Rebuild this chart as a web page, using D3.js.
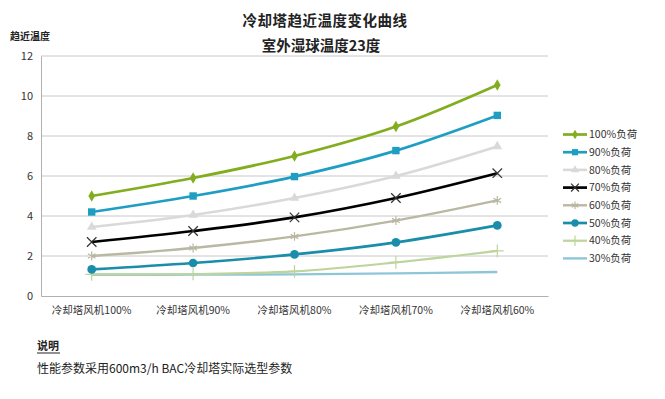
<!DOCTYPE html>
<html><head><meta charset="utf-8">
<script src="https://cdn.jsdelivr.net/npm/d3@7/dist/d3.min.js"></script>
<style>
body{margin:0;background:#fff;}
svg{display:block;}
text{font-family:"Noto Sans CJK SC","Noto Sans",sans-serif;}
</style></head>
<body><div id="chart"></div>
<script>
const categories = ["冷却塔风机100%","冷却塔风机90%","冷却塔风机80%","冷却塔风机70%","冷却塔风机60%"];
const seriesNames = ["100%负荷","90%负荷","80%负荷","70%负荷","60%负荷","50%负荷","40%负荷","30%负荷"];
const load100 = [5.0, 5.9, 7.0, 8.47, 10.55];
const load90  = [4.2, 5.0, 5.97, 7.27, 9.03];
const load80  = [3.45, 4.05, 4.9, 6.0, 7.48];
const load70  = [2.7, 3.25, 3.93, 4.9, 6.14];
const load60  = [2.0, 2.4, 2.98, 3.77, 4.78];
const load50  = [1.33, 1.65, 2.08, 2.68, 3.53];
const load40  = [1.08, 1.1, 1.23, 1.68, 2.26];
const load30  = [1.06, 1.07, 1.08, 1.13, 1.2];
const yTicks = [0,2,4,6,8,10,12];
const title = "冷却塔趋近温度变化曲线";
const subtitle = "室外湿球温度23度";
const yTitle = "趋近温度";
const noteTitle = "说明";
const noteText = "性能参数采用600m3/h BAC冷却塔实际选型参数";

const seriesValues = [load100,load90,load80,load70,load60,load50,load40,load30];
const colors = ["#82ad1e","#1e9ec2","#d9d9d9","#000000","#b9b8a2","#1a8dab","#bdd49c","#8ec6d8"];
const widths = [2.7,2.7,2.6,2.7,2.4,2.7,2.2,2.4];
const sym = d3.symbolAsterisk ? [d3.symbolDiamond,d3.symbolSquare,d3.symbolTriangle,d3.symbolX,d3.symbolAsterisk,d3.symbolCircle,d3.symbolPlus,null]
  : [d3.symbolDiamond,d3.symbolSquare,d3.symbolTriangle,d3.symbolCross,d3.symbolStar,d3.symbolCircle,d3.symbolCross,null];
const symFilled = [true,true,true,false,false,true,false,false];
const symSize = [38,55,40,60,55,60,55,0];

const W=665,H=399;
const svg = d3.select("#chart").append("svg").attr("width",W).attr("height",H);

const x = d3.scaleBand().domain(categories).range([41,548]);
const y = d3.scaleLinear().domain([0,12]).range([296,56]);

// gridlines
svg.append("g").selectAll("line").data(yTicks.filter(d=>d>0)).join("line")
  .attr("x1",41).attr("x2",548).attr("y1",d=>y(d)).attr("y2",d=>y(d))
  .attr("stroke","#c8c8c8").attr("stroke-width",1);

// y axis
const ya = svg.append("g").attr("transform","translate(41,0)")
  .call(d3.axisLeft(y).tickValues(yTicks).tickSize(0).tickPadding(8));
ya.select(".domain").attr("stroke","#b0b0b0");
ya.selectAll("text").attr("font-size",11).attr("fill","#333").attr("font-family","'Open Sans','Noto Sans',sans-serif");

// x axis
const xa = svg.append("g").attr("transform","translate(0,296)")
  .call(d3.axisBottom(x).tickSize(0).tickPadding(11));
xa.select(".domain").attr("stroke","#b0b0b0");
xa.selectAll("text").attr("font-size",10.5).attr("fill","#333");

const line = d3.line().x((d,i)=>x(categories[i])+x.bandwidth()/2).y(d=>y(d)).curve(d3.curveCatmullRom.alpha(0.5));

// draw lines from bottom series up
for(let s=seriesValues.length-1;s>=0;s--){
  const g = svg.append("g");
  g.append("path").datum(seriesValues[s]).attr("d",line)
    .attr("fill","none").attr("stroke",colors[s]).attr("stroke-width",widths[s]).attr("stroke-linejoin","round");
  if(sym[s]){
    g.selectAll("path.m").data(seriesValues[s]).join("path").attr("class","m")
      .attr("transform",(d,i)=>`translate(${x(categories[i])+x.bandwidth()/2},${y(d)})`)
      .attr("d",d3.symbol().type(sym[s]).size(symSize[s]))
      .attr("fill",symFilled[s]?colors[s]:"none")
      .attr("stroke",symFilled[s]?"none":(s===3?"#333":colors[s]))
      .attr("stroke-width",1.2);
  }
}

// legend
const leg = svg.append("g");
seriesNames.forEach((n,i)=>{
  const ly = 134.5 + i*17.7;
  leg.append("line").attr("x1",563).attr("x2",587).attr("y1",ly).attr("y2",ly)
    .attr("stroke",colors[i]).attr("stroke-width",widths[i]);
  if(sym[i]){
    leg.append("path").attr("transform",`translate(575,${ly})`)
      .attr("d",d3.symbol().type(sym[i]).size(symSize[i]*0.7))
      .attr("fill",symFilled[i]?colors[i]:"none")
      .attr("stroke",symFilled[i]?"none":(i===3?"#333":colors[i])).attr("stroke-width",1.2);
  }
  leg.append("text").attr("x",589).attr("y",ly).attr("dy","0.35em")
    .attr("font-size",10.5).attr("fill","#333").text(n);
});

// titles
svg.append("text").attr("x",325).attr("y",26).attr("text-anchor","middle")
  .attr("font-size",14.5).attr("font-weight","bold").attr("fill","#222").attr("letter-spacing",0.5).text(title);
svg.append("text").attr("x",321).attr("y",51).attr("text-anchor","middle")
  .attr("font-size",14.5).attr("font-weight","bold").attr("fill","#222").text(subtitle);
svg.append("text").attr("x",10).attr("y",40)
  .attr("font-size",10).attr("font-weight","bold").attr("fill","#222").text(yTitle);

// note
svg.append("text").attr("x",37).attr("y",350)
  .attr("font-size",11).attr("font-weight","bold").attr("fill","#222").text(noteTitle);
svg.append("line").attr("x1",37).attr("x2",60).attr("y1",353).attr("y2",353).attr("stroke","#222").attr("stroke-width",1);
svg.append("text").attr("x",37).attr("y",373)
  .attr("font-size",12).attr("fill","#222").text(noteText);
</script></body></html>
